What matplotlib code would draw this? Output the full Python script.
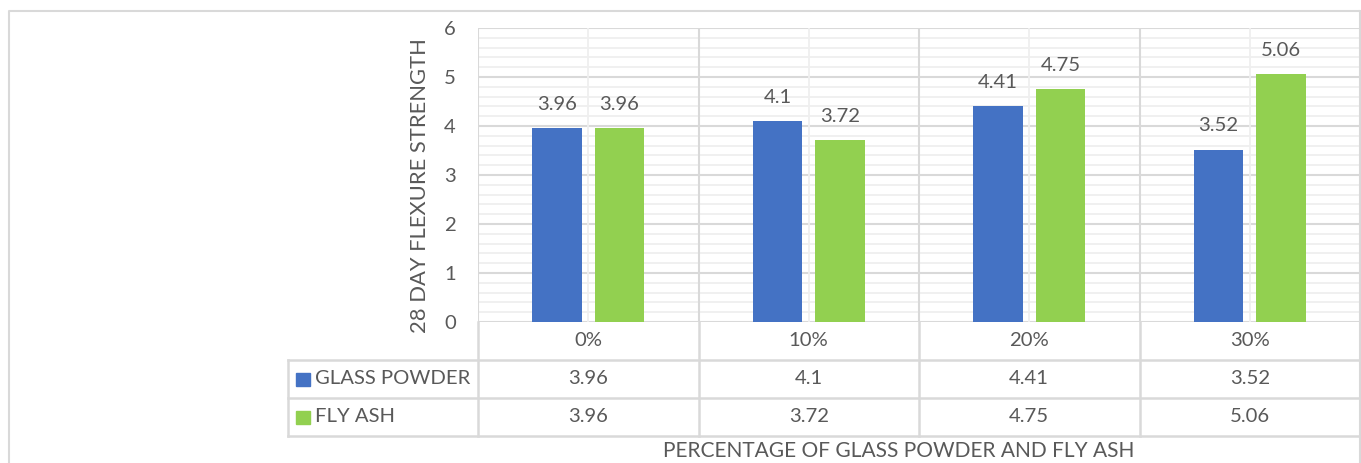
import matplotlib
matplotlib.use("Agg")
import matplotlib.pyplot as plt
import matplotlib.transforms as mtransforms
from matplotlib.patches import Rectangle
import numpy as np

categories = ["0%", "10%", "20%", "30%"]
series_names = ["GLASS POWDER", "FLY ASH"]
glass_powder = [3.96, 4.1, 4.41, 3.52]
fly_ash = [3.96, 3.72, 4.75, 5.06]
series_values = [glass_powder, fly_ash]
colors = ["#4472C4", "#92D050"]
y_ticks = [0, 1, 2, 3, 4, 5, 6]

plt.rcParams['font.family'] = ['Lato', 'DejaVu Sans']
TXT = "#595959"
GRID_MAJ = "#D9D9D9"
GRID_MIN = "#EFEFEF"
FS = 14.6
FS_YTITLE = 15.8
FS_XTITLE = 15.0

W, H = 1361, 463
DPI = 100
fig = plt.figure(figsize=(W / DPI, H / DPI), dpi=DPI)

def px_rect(x0, y0, x1, y1):
    return [x0 / W, (H - y1) / H, (x1 - x0) / W, (y1 - y0) / H]

# outer chart border
border = fig.add_axes([0, 0, 1, 1])
border.set_xlim(0, W)
border.set_ylim(H, 0)
border.axis("off")
border.plot([9.5, 9.5, 1360.5], [463, 10.5, 10.5], color="#D9D9D9", lw=1.5, solid_capstyle="butt")
border.plot([1360.5, 1360.5], [10.5, 463], color="#D9D9D9", lw=1.5)

# main plot area
ax = fig.add_axes(px_rect(478, 28, 1360, 322))
n = len(categories)
x = np.arange(n)
ax.set_xlim(-0.5, n - 0.5)
ax.set_ylim(0, 6)
for s in ax.spines.values():
    s.set_visible(False)

# gridlines
for yv in np.arange(0, 6.01, 0.2):
    major = abs(yv - round(yv)) < 1e-6
    ax.axhline(yv, color=GRID_MAJ if major else GRID_MIN, lw=1.5 if major else 1.3, zorder=0)
for xv in np.arange(-0.5, n, 1.0):
    ax.axvline(xv, color=GRID_MAJ, lw=1.5, zorder=0)
for xv in x:
    ax.axvline(xv, color=GRID_MIN, lw=1.3, zorder=0)

bw = 0.223
off = 0.142
for i, (vals, c) in enumerate(zip(series_values, colors)):
    pos = x + (-off if i == 0 else off)
    bars = ax.bar(pos, vals, width=bw, color=c, zorder=2)
    for b, v in zip(bars, vals):
        ax.annotate(f"{v:g}", (b.get_x() + b.get_width() / 2, v), xytext=(0, 17),
                    textcoords="offset points", ha="center", va="center",
                    fontsize=FS, color=TXT)

ax.set_yticks(y_ticks)
ax.set_yticklabels([str(t) for t in y_ticks], fontsize=FS, color=TXT)
ax.tick_params(axis="y", length=0, pad=16)
ax.set_xticks([])

# y label
fig.text(420 / W, 1 - 186 / H, "28 DAY FLEXURE STRENGTH", rotation=90,
         ha="center", va="center", fontsize=FS_YTITLE, color=TXT)

# data table
tax = fig.add_axes(px_rect(288, 322, 1360, 436))
tax.set_xlim(288, 1360)
tax.set_ylim(436, 322)
tax.axis("off")
blend = mtransforms.blended_transform_factory(ax.transData, tax.transData)
row_bounds = [322, 360, 398, 436]
lw_t = 1.8
for yb in row_bounds[1:]:
    tax.plot([288, 1360], [yb, yb], color=GRID_MAJ, lw=lw_t, solid_capstyle="projecting", clip_on=False)
tax.plot([288, 288], [360, 436], color=GRID_MAJ, lw=lw_t, clip_on=False)
for xv in np.arange(-0.5, n, 1.0):
    tax.plot([xv, xv], [322, 436], color=GRID_MAJ, lw=lw_t, transform=blend, clip_on=False)

# category row
for xi, cat in zip(x, categories):
    tax.text(xi, 341, cat, transform=blend, ha="center", va="center", fontsize=FS, color=TXT)
# series rows
for r, (name, vals, c) in enumerate(zip(series_names, series_values, colors)):
    yc = (row_bounds[r + 1] + row_bounds[r + 2]) / 2
    tax.add_patch(Rectangle((296, yc - 6.5), 13.5, 13, color=c, clip_on=False))
    tax.text(315, yc, name, ha="left", va="center", fontsize=FS, color=TXT)
    for xi, v in zip(x, vals):
        tax.text(xi, yc, f"{v:g}", transform=blend, ha="center", va="center", fontsize=FS, color=TXT)

fig.text(899 / W, 1 - 451 / H, "PERCENTAGE OF GLASS POWDER AND FLY ASH",
         ha="center", va="center", fontsize=FS_XTITLE, color=TXT)

fig.savefig("out.png", dpi=DPI, facecolor="white")
